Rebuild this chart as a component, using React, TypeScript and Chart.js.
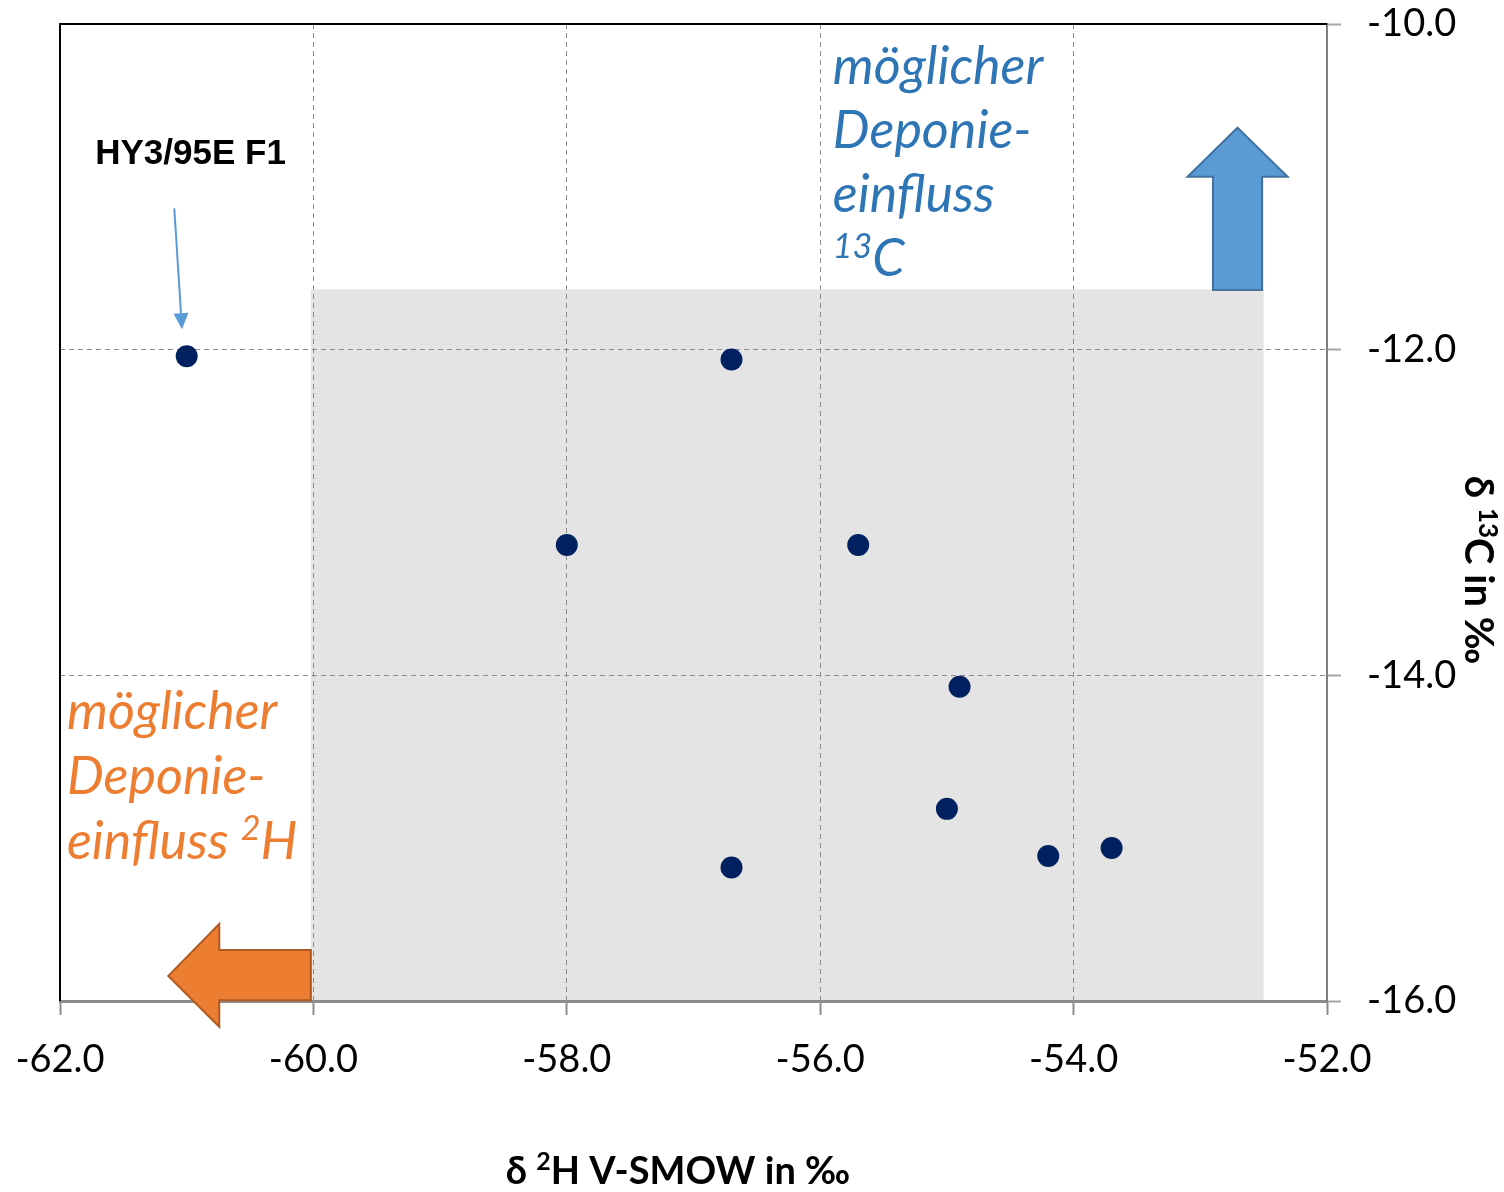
import React, { useEffect, useRef } from "react";
import { Chart, registerables } from "chart.js";

Chart.register(...registerables);

// ---- data ----
const xValues = [-61.0, -56.7, -58.0, -55.7, -54.9, -55.0, -54.2, -53.7, -56.7];
const yValues = [-12.04, -12.06, -13.2, -13.2, -14.07, -14.82, -15.11, -15.06, -15.18];
const xTicks = [-62, -60, -58, -56, -54, -52];
const yTicks = [-16, -14, -12, -10];
const shadedX = [-60.02, -52.5];
const shadedY = [-16, -11.63];

const FAMILY = "Lato, 'DejaVu Sans', sans-serif";

type Part = { t: string; sup?: boolean };

function drawRich(
  ctx: CanvasRenderingContext2D,
  parts: Part[],
  x: number,
  y: number,
  size: number,
  weight: string,
  style: string,
  color: string,
  align: "left" | "center"
) {
  const main = `${style} ${weight} ${size}px ${FAMILY}`;
  const sup = `${style} ${weight} ${Math.round(size * 0.66)}px ${FAMILY}`;
  ctx.save();
  ctx.fillStyle = color;
  ctx.textBaseline = "alphabetic";
  ctx.textAlign = "left";
  const widths = parts.map((p) => {
    ctx.font = p.sup ? sup : main;
    return ctx.measureText(p.t).width;
  });
  const total = widths.reduce((a, b) => a + b, 0);
  let cx = align === "center" ? x - total / 2 : x;
  parts.forEach((p, i) => {
    ctx.font = p.sup ? sup : main;
    ctx.fillText(p.t, cx, p.sup ? y - size * 0.36 : y);
    cx += widths[i];
  });
  ctx.restore();
}

const zeroPad = (axis: any) => {
  axis.paddingLeft = 0;
  axis.paddingRight = 0;
  axis.paddingTop = 0;
  axis.paddingBottom = 0;
};

const overlayPlugin = {
  id: "overlay",
  beforeDraw(chart: any) {
    const ctx = chart.ctx as CanvasRenderingContext2D;
    const xs = chart.scales.x;
    const ys = chart.scales.y;
    ctx.save();
    ctx.fillStyle = "#ffffff";
    ctx.fillRect(0, 0, chart.width, chart.height);
    const x0 = xs.getPixelForValue(shadedX[0]);
    const x1 = xs.getPixelForValue(shadedX[1]);
    const y0 = ys.getPixelForValue(shadedY[1]);
    const y1 = ys.getPixelForValue(shadedY[0]);
    ctx.fillStyle = "#e4e4e4";
    ctx.fillRect(x0, y0, x1 - x0, y1 - y0);
    ctx.restore();
  },
  afterDraw(chart: any) {
    const ctx = chart.ctx as CanvasRenderingContext2D;
    const xs = chart.scales.x;
    const ys = chart.scales.y;
    const a = chart.chartArea;
    const px = (v: number) => xs.getPixelForValue(v);
    const py = (v: number) => ys.getPixelForValue(v);
    ctx.save();
    // black top & left frame
    ctx.strokeStyle = "#000000";
    ctx.lineWidth = 2;
    ctx.beginPath();
    ctx.moveTo(a.left, a.bottom);
    ctx.lineTo(a.left, a.top);
    ctx.lineTo(a.right, a.top);
    ctx.stroke();

    // blue up arrow
    const bx = -52.706;
    ctx.beginPath();
    ctx.moveTo(px(bx), py(-10.637));
    ctx.lineTo(px(bx + 0.395), py(-10.938));
    ctx.lineTo(px(bx + 0.194), py(-10.938));
    ctx.lineTo(px(bx + 0.194), py(-11.634));
    ctx.lineTo(px(bx - 0.194), py(-11.634));
    ctx.lineTo(px(bx - 0.194), py(-10.938));
    ctx.lineTo(px(bx - 0.395), py(-10.938));
    ctx.closePath();
    ctx.fillStyle = "#5b9bd5";
    ctx.fill();
    ctx.strokeStyle = "#41719c";
    ctx.lineWidth = 2;
    ctx.stroke();

    // orange left arrow
    ctx.beginPath();
    ctx.moveTo(px(-61.145), py(-15.846));
    ctx.lineTo(px(-60.743), py(-15.527));
    ctx.lineTo(px(-60.743), py(-15.687));
    ctx.lineTo(px(-60.02), py(-15.687));
    ctx.lineTo(px(-60.02), py(-15.995));
    ctx.lineTo(px(-60.743), py(-15.995));
    ctx.lineTo(px(-60.743), py(-16.158));
    ctx.closePath();
    ctx.fillStyle = "#ed7d31";
    ctx.fill();
    ctx.strokeStyle = "#ae5a21";
    ctx.lineWidth = 2;
    ctx.stroke();

    // annotation arrow
    const sx = px(-61.098), sy = py(-11.132);
    const tx = px(-61.037), ty = py(-11.875);
    const ang = Math.atan2(ty - sy, tx - sx);
    const hl = 16, hw = 7.5;
    const bxp = tx - hl * Math.cos(ang), byp = ty - hl * Math.sin(ang);
    ctx.strokeStyle = "#5b9bd5";
    ctx.lineWidth = 2;
    ctx.beginPath();
    ctx.moveTo(sx, sy);
    ctx.lineTo(bxp, byp);
    ctx.stroke();
    ctx.fillStyle = "#5b9bd5";
    ctx.beginPath();
    ctx.moveTo(tx, ty);
    ctx.lineTo(bxp + hw * Math.sin(ang), byp - hw * Math.cos(ang));
    ctx.lineTo(bxp - hw * Math.sin(ang), byp + hw * Math.cos(ang));
    ctx.closePath();
    ctx.fill();

    ctx.font = `bold 35px 'Liberation Sans', Arial, sans-serif`;
    ctx.fillStyle = "#000000";
    ctx.textAlign = "left";
    ctx.textBaseline = "alphabetic";
    ctx.fillText("HY3/95E F1", px(-61.722), py(-10.86));

    // blue text
    const blue = "#2e75b6";
    const bl = px(-55.9);
    const by0 = py(-10.37);
    const fs = 52;
    drawRich(ctx, [{ t: "möglicher" }], bl, by0, fs, "normal", "italic", blue, "left");
    drawRich(ctx, [{ t: "Deponie-" }], bl, by0 + 64, fs, "normal", "italic", blue, "left");
    drawRich(ctx, [{ t: "einfluss" }], bl, by0 + 128, fs, "normal", "italic", blue, "left");
    drawRich(ctx, [{ t: "13", sup: true }, { t: "C" }], bl, by0 + 192, fs, "normal", "italic", blue, "left");

    // orange text
    const orange = "#ed7d31";
    const ol = px(-61.945);
    const oy0 = py(-14.33);
    drawRich(ctx, [{ t: "möglicher" }], ol, oy0, fs, "normal", "italic", orange, "left");
    drawRich(ctx, [{ t: "Deponie-" }], ol, oy0 + 65, fs, "normal", "italic", orange, "left");
    drawRich(ctx, [{ t: "einfluss " }, { t: "2", sup: true }, { t: "H" }], ol, oy0 + 130, fs, "normal", "italic", orange, "left");

    // axis titles
    drawRich(
      ctx,
      [{ t: "δ " }, { t: "2", sup: true }, { t: "H V-SMOW in ‰" }],
      678,
      1184,
      38,
      "bold",
      "normal",
      "#000000",
      "center"
    );
    ctx.save();
    ctx.translate(1465, 570);
    ctx.rotate(Math.PI / 2);
    drawRich(
      ctx,
      [{ t: "δ " }, { t: "13", sup: true }, { t: "C in ‰" }],
      0,
      0,
      40,
      "bold",
      "normal",
      "#000000",
      "center"
    );
    ctx.restore();
    ctx.restore();
  },
};

export default function App() {
  const ref = useRef<HTMLCanvasElement | null>(null);
  useEffect(() => {
    if (!ref.current) return;
    const edgeX = (v: number) => v === xTicks[0] || v === xTicks[xTicks.length - 1];
    const edgeY = (v: number) => v === yTicks[0] || v === yTicks[yTicks.length - 1];
    const chart = new Chart(ref.current, {
      type: "scatter",
      data: {
        datasets: [
          {
            data: xValues.map((x, i) => ({ x, y: yValues[i] })),
            backgroundColor: "#002060",
            borderWidth: 0,
            pointRadius: 11,
            pointHoverRadius: 11,
          },
        ],
      },
      options: {
        animation: false,
        responsive: false,
        devicePixelRatio: 1,
        events: [],
        layout: { padding: { left: 60, top: 24, right: 0, bottom: 0 } },
        plugins: { legend: { display: false }, tooltip: { enabled: false } },
        scales: {
          x: {
            type: "linear",
            position: "bottom",
            min: -62,
            max: -52,
            afterBuildTicks: (axis: any) => {
              axis.ticks = xTicks.map((v) => ({ value: v }));
            },
            afterFit: (axis: any) => {
              axis.height = 191;
              zeroPad(axis);
            },
            ticks: {
              callback: (v: any) => Number(v).toFixed(1),
              font: { family: FAMILY, size: 38 },
              color: "#000000",
              padding: 22,
              maxRotation: 0,
            },
            grid: {
              color: (c: any) => (edgeX(c.tick?.value) ? "rgba(0,0,0,0)" : "#8c8c8c"),
              lineWidth: 1,
              tickLength: 14,
              tickColor: "#8c8c8c",
              tickWidth: 2,
            },
            border: { display: true, color: "#8c8c8c", width: 3, dash: [5, 4] },
          },
          y: {
            type: "linear",
            position: "right",
            min: -16,
            max: -10,
            afterBuildTicks: (axis: any) => {
              axis.ticks = yTicks.map((v) => ({ value: v }));
            },
            afterFit: (axis: any) => {
              axis.width = 177;
              zeroPad(axis);
            },
            ticks: {
              callback: (v: any) => Number(v).toFixed(1),
              font: { family: FAMILY, size: 38 },
              color: "#000000",
              padding: 26,
            },
            grid: {
              color: (c: any) => (edgeY(c.tick?.value) ? "rgba(0,0,0,0)" : "#8c8c8c"),
              lineWidth: 1,
              tickLength: 14,
              tickColor: "#a6a6a6",
              tickWidth: 2,
            },
            border: { display: true, color: "#7f7f7f", width: 2, dash: [5, 4] },
          },
        },
      } as any,
      plugins: [overlayPlugin],
    });
    return () => chart.destroy();
  }, []);
  return (
    <div style={{ position: "fixed", left: 0, top: 0, width: 1504, height: 1192, background: "#fff" }}>
      <canvas ref={ref} width={1504} height={1192} style={{ width: 1504, height: 1192, display: "block" }} />
    </div>
  );
}
